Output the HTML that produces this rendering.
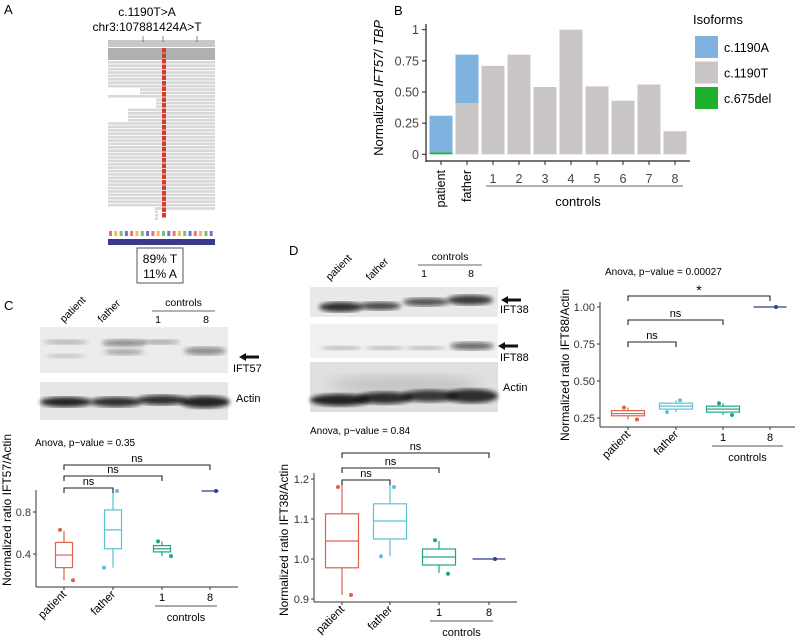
<!DOCTYPE html>
<html><head><meta charset="utf-8">
<style>
body{margin:0;background:#fff;}
svg{display:block;font-family:"Liberation Sans",Arial,sans-serif;}
</style></head>
<body>
<svg id="fig" width="800" height="637" viewBox="0 0 800 637" xmlns="http://www.w3.org/2000/svg">
<defs>
<filter id="blur2"><feGaussianBlur stdDeviation="2.2"/></filter>
<filter id="blur6"><feGaussianBlur stdDeviation="6"/></filter>
</defs>
<g>
<text x="4" y="14" font-size="13">A</text>
<text x="147" y="16" font-size="12" text-anchor="middle">c.1190T&gt;A</text>
<text x="147" y="31" font-size="12" text-anchor="middle">chr3:107881424A&gt;T</text>
<g id="igv"></g>
<rect x="137" y="248" width="46" height="35" fill="#fff" stroke="#555" stroke-width="1"/>
<text x="160" y="263" font-size="12" text-anchor="middle">89% T</text>
<text x="160" y="278" font-size="12" text-anchor="middle">11% A</text>
</g>
<g id="panelB">
<text x="394" y="15" font-size="13">B</text>
</g>
<g id="panelC">
<text x="4" y="310" font-size="13">C</text>
</g>
<g id="panelD">
<text x="289" y="255" font-size="13">D</text>
</g>
<g id="panelE"></g>
</svg>
<script>
// ---- Panel B data ----
const bCategories = ["patient","father","1","2","3","4","5","6","7","8"];
const bDel = [0.015,0,0,0,0,0,0,0,0,0];
const bA = [0.295,0.39,0,0,0,0,0,0,0,0];
const bT = [0,0.41,0.71,0.80,0.54,1.0,0.545,0.43,0.56,0.185];
const bTicks = [0,0.25,0.5,0.75,1];
const bTickLabels = ["0","0.25","0.50","0.75","1"];
// ---- Panel C (IFT57) ----
const cGroups = ["patient","father","1","8"];
const cQ1 = [0.27,0.45,0.42,1.0];
const cMed = [0.39,0.63,0.45,1.0];
const cQ3 = [0.51,0.82,0.48,1.0];
const cLo = [0.15,0.27,0.38,1.0];
const cHi = [0.62,1.0,0.52,1.0];
const cPts = [[0.63,0.15],[1.0,0.27],[0.52,0.38],[1.0]];
const cTicks = [0.4,0.8];
const cTickLabels = ["0.4","0.8"];
// ---- Panel D (IFT38) ----
const dQ1 = [0.978,1.05,0.985,1.0];
const dMed = [1.045,1.095,1.005,1.0];
const dQ3 = [1.113,1.138,1.025,1.0];
const dLo = [0.91,1.007,0.965,1.0];
const dHi = [1.19,1.19,1.045,1.0];
const dPts = [[1.18,0.91],[1.18,1.007],[1.047,0.963],[1.0]];
const dTicks = [0.9,1.0,1.1,1.2];
const dTickLabels = ["0.9","1.0","1.1","1.2"];
// ---- Panel D right (IFT88) ----
const eQ1 = [0.265,0.31,0.29,1.0];
const eMed = [0.28,0.33,0.31,1.0];
const eQ3 = [0.30,0.35,0.33,1.0];
const eLo = [0.24,0.29,0.27,1.0];
const eHi = [0.32,0.37,0.35,1.0];
const ePts = [[0.32,0.24],[0.37,0.29],[0.35,0.27],[1.0]];
const eTicks = [0.25,0.5,0.75,1.0];
const eTickLabels = ["0.25","0.50","0.75","1.00"];

const NS="http://www.w3.org/2000/svg";
const groupColors=["#e0604a","#5bc2d8","#22a585","#2f3f8f"];
function mk(parent,tag,attrs,text){const e=document.createElementNS(NS,tag);for(const k in attrs)e.setAttribute(k,attrs[k]);if(text!==undefined)e.textContent=text;parent.appendChild(e);return e;}

(function(){
 const g=document.getElementById('igv');
 mk(g,'rect',{x:108,y:40,width:107,height:7,fill:'#c8c8c8'});
 [143,163,197].forEach(x=>mk(g,'line',{x1:x,y1:36,x2:x,y2:42,stroke:'#555','stroke-width':0.7}));
 mk(g,'rect',{x:108,y:48,width:107,height:12,fill:'#b0b0b0'});
 for(let y=61;y<220;y+=3.4){
  let x0=108; if(y>62&&y<64)x0=123; if(y>86&&y<92)x0=140; if(y>96&&y<106)x0=156; if(y>108&&y<120)x0=128;
  let x1=215; if(y>208)x1=x0+50;
  if(y>205)x0=155;
  mk(g,'rect',{x:x0,y:y,width:x1-x0,height:2.6,fill:'#d8d8d8'});
 }
 for(let y=48;y<216;y+=5.5){
  const r=mk(g,'rect',{x:162,y:y,width:4,height:4.5,fill:'#d93a2a'});
  
  
 }
 const seqc=['#e33','#f90','#3a3','#33c'];
 for(let i=0;i<20;i++)mk(g,'rect',{x:109+i*5.3,y:231,width:3,height:5,fill:seqc[i%4],'fill-opacity':0.7});
 mk(g,'rect',{x:108,y:239,width:107,height:6,fill:'#3a3a8c'});
})();

(function(){
 const g=document.getElementById('panelB');
 const y=v=>154.3-v*124.6;
 const x0=441, step=26, bw=23;
 const xc=i=>x0+i*step;
 mk(g,'line',{x1:426,y1:24,x2:426,y2:162,stroke:'#222','stroke-width':1.2});
 mk(g,'line',{x1:426,y1:161,x2:690,y2:161,stroke:'#222','stroke-width':1.2});
 bTicks.forEach((t,i)=>{
  mk(g,'line',{x1:422,y1:y(t),x2:426,y2:y(t),stroke:'#222'});
  const tl=mk(g,'text',{x:419,y:y(t)+4.5,'font-size':12.5,'text-anchor':'end',fill:'#444'},bTickLabels[i]);
  
  
 });
 bCategories.forEach((c,i)=>{
  let base=0;
  [[bDel[i],'#1db12f'],[bT[i],'#c9c6c5'],[bA[i],'#7fb2de']].forEach(([v,col])=>{
   if(v>0){const r=mk(g,'rect',{x:xc(i)-bw/2,y:y(base+v),width:bw,height:y(base)-y(base+v),fill:col});
    
    }
   base+=v;
  });
  mk(g,'line',{x1:xc(i),y1:161,x2:xc(i),y2:165,stroke:'#222'});
  if(i<2){const t=mk(g,'text',{x:0,y:0,'font-size':12.5,'text-anchor':'end',transform:`translate(${xc(i)+4},170) rotate(-90)`},c);
   
   }
  else {const t=mk(g,'text',{x:xc(i),y:183,'font-size':12.5,'text-anchor':'middle',fill:'#444'},c);
   
   }
 });
 mk(g,'line',{x1:486,y1:186,x2:683,y2:186,stroke:'#666'});
 const ct=mk(g,'text',{x:578,y:206,'font-size':13,'text-anchor':'middle'},'controls');
 
 
 const yt=mk(g,'text',{x:0,y:0,'font-size':13,'text-anchor':'middle',transform:'translate(383,88) rotate(-90)'});
 
 
 mk(yt,'tspan',{},'Normalized ');mk(yt,'tspan',{'font-style':'italic'},'IFT57');mk(yt,'tspan',{},'/ ');mk(yt,'tspan',{'font-style':'italic'},'TBP');
 const lg=mk(g,'g',{});
 
 
 mk(lg,'text',{x:693,y:24,'font-size':13},'Isoforms');
 [['c.1190A','#7fb2de'],['c.1190T','#c9c6c5'],['c.675del','#1db12f']].forEach(([l,col],i)=>{
  mk(lg,'rect',{x:695,y:36+i*25.5,width:23,height:22,fill:col});
  const t=mk(lg,'text',{x:724,y:52+i*25.5,'font-size':12.5},l);
  
  
 });
})();

function blot(g,x,y,w,h,bands,bg){
 mk(g,'rect',{x:x,y:y,width:w,height:h,fill:bg||'#eeeeee'});
 bands.forEach(b=>mk(g,'ellipse',{cx:b[0],cy:b[1],rx:b[2],ry:b[3],fill:'#111','fill-opacity':b[4],filter:b[5]||'url(#blur2)'}));
}
function arrow(g,x,y){mk(g,'path',{d:`M${x+20},${y-1.5} L${x+7},${y-1.5} L${x+7},${y-4} L${x},${y} L${x+7},${y+4} L${x+7},${y+1.5} L${x+20},${y+1.5}Z`,fill:'#111'});}
function laneLabels(g,xs,y,ctrlY,ctrlX1,ctrlX2){
 ['patient','father'].forEach((l,i)=>{const t=mk(g,'text',{x:0,y:0,'font-size':10.5,transform:`translate(${xs[i]},${y}) rotate(-45)`},l);
  
  });
 mk(g,'text',{x:(ctrlX1+ctrlX2)/2,y:ctrlY-5,'font-size':10.5,'text-anchor':'middle'},'controls');
 mk(g,'line',{x1:ctrlX1,y1:ctrlY,x2:ctrlX2,y2:ctrlY,stroke:'#333','stroke-width':0.8});
 mk(g,'text',{x:xs[2],y:ctrlY+12,'font-size':10.5,'text-anchor':'middle'},'1');
 mk(g,'text',{x:xs[3],y:ctrlY+12,'font-size':10.5,'text-anchor':'middle'},'8');
}
(function(){
 const g=document.getElementById('panelC');
 const b=mk(g,'g',{});
 
 
 laneLabels(b,[64,102,158,206],323,311,152,215);
 blot(b,40,327,188,46,[[66,342,22,2.5,0.25],[124,343,22,3.5,0.45],[160,342,20,2.5,0.3],[205,351,21,4,0.45],[66,356,20,2,0.2],[124,352,20,3,0.3]],'#ececec');
 blot(b,40,382,188,38,[[66,402,26,5,0.9],[116,402,26,5,0.85],[162,400,25,5,0.85],[205,402,25,6,0.9]],'#e6e6e6');
 arrow(b,239,357);
 mk(b,'text',{x:233,y:372,'font-size':11},'IFT57');
 mk(b,'text',{x:236,y:402,'font-size':11},'Actin');
})();
(function(){
 const g=document.getElementById('panelD');
 const b=mk(g,'g',{});
 
 
 laneLabels(b,[330,370,424,471],281,265,418,482);
 blot(b,310,287,188,30,[[341,307,22,5,0.85],[380,306,21,4,0.75],[426,302,23,4,0.7],[470,300,23,5,0.8]],'#e9e9e9');
 blot(b,310,324,188,34,[[341,348,21,2,0.25],[385,348,20,2,0.25],[426,348,20,2,0.25],[472,346,22,4,0.6]],'#f1f1f1');
 blot(b,310,362,188,50,[[340,400,30,6,0.9],[385,398,28,6,0.85],[430,396,28,6,0.8],[472,396,26,7,0.85],[404,385,75,10,0.12,'url(#blur6)']],'#e0e0e0');
 arrow(b,501,300);
 arrow(b,498,346);
 mk(b,'text',{x:500,y:313,'font-size':11},'IFT38');
 mk(b,'text',{x:500,y:361,'font-size':11},'IFT88');
 mk(b,'text',{x:503,y:391,'font-size':11},'Actin');
})();

function boxplot(g,opt){
 const {y,xs,q1,med,q3,lo,hi,pts,ticks,tickLabels,axisX,axisTop,axisY,axisRight,bw,title,anova,anovaX,anovaY,brackets,titleX,ctrl}=opt;
 mk(g,'line',{x1:axisX,y1:axisTop,x2:axisX,y2:axisY,stroke:'#333','stroke-width':1});
 mk(g,'line',{x1:axisX,y1:axisY,x2:axisRight,y2:axisY,stroke:'#333','stroke-width':1});
 ticks.forEach((t,i)=>{mk(g,'line',{x1:axisX-3,y1:y(t),x2:axisX,y2:y(t),stroke:'#333'});
  const tl=mk(g,'text',{x:axisX-5,y:y(t)+4,'font-size':11,'text-anchor':'end',fill:'#333'},tickLabels[i]);
  
  });
 xs.forEach((x,i)=>{
  const c=groupColors[i];
  mk(g,'line',{x1:x,y1:axisY,x2:x,y2:axisY+3,stroke:'#333'});
  const bx=mk(g,'g',{});
  
  
  if(i<3){
   mk(bx,'line',{x1:x,y1:y(lo[i]),x2:x,y2:y(q1[i]),stroke:c,'stroke-width':1.2});
   mk(bx,'line',{x1:x,y1:y(q3[i]),x2:x,y2:y(hi[i]),stroke:c,'stroke-width':1.2});
   mk(bx,'rect',{x:x-bw/2,y:y(q3[i]),width:bw,height:y(q1[i])-y(q3[i]),fill:'none',stroke:c,'stroke-width':1.2});
   mk(bx,'line',{x1:x-bw/2,y1:y(med[i]),x2:x+bw/2,y2:y(med[i]),stroke:c,'stroke-width':1.2});
  } else {
   mk(bx,'line',{x1:x-bw/2,y1:y(med[i]),x2:x+bw/2,y2:y(med[i]),stroke:c,'stroke-width':1.2});
  }
  pts[i].forEach((p,j)=>{const off=pts[i].length===1?6:(j===0?-4:9)*(i===1?-1:1);
   const d=mk(bx,'circle',{cx:x+off,cy:y(p),r:2,fill:c});
   
   });
  if(i<2){const t=mk(g,'text',{x:0,y:0,'font-size':11.5,'text-anchor':'end',transform:`translate(${x+3},${axisY+8}) rotate(-45)`},cGroups[i]);
   
   }
  else mk(g,'text',{x:x,y:axisY+14,'font-size':11,'text-anchor':'middle'},cGroups[i]);
 });
 mk(g,'line',{x1:ctrl[0],y1:axisY+19,x2:ctrl[1],y2:axisY+19,stroke:'#555'});
 const ct=mk(g,'text',{x:(ctrl[0]+ctrl[1])/2,y:axisY+34,'font-size':11,'text-anchor':'middle'},'controls');
 
 
 const a=mk(g,'text',{x:anovaX,y:anovaY,'font-size':10},anova);
 
 
 brackets.forEach(([by,to,lab])=>{
  const bk=mk(g,'path',{d:`M${xs[0]},${by+5} L${xs[0]},${by} L${xs[to]},${by} L${xs[to]},${by+5}`,fill:'none',stroke:'#222','stroke-width':1.1});
  
  
  mk(g,'text',{x:(xs[0]+xs[to])/2,y:by-3+(lab==='*'?2:0),'font-size':lab==='*'?14:11,'text-anchor':'middle'},lab);
 });
 const yt=mk(g,'text',{x:0,y:0,'font-size':12,'text-anchor':'middle',transform:`translate(${titleX[0]},${titleX[1]}) rotate(-90)`},title);
 
 
}
boxplot(document.getElementById('panelC'),{
 y:v=>554-(v-0.4)*105,xs:[64,113,162,210],q1:cQ1,med:cMed,q3:cQ3,lo:cLo,hi:cHi,pts:cPts,
 ticks:cTicks,tickLabels:cTickLabels,axisX:36,axisTop:490,axisY:587,axisRight:238,bw:17,
 title:'Normalized ratio IFT57/Actin',titleX:[11,510],anova:'Anova, p\u2212value = 0.35',anovaX:35,anovaY:446,
 brackets:[[488,1,'ns'],[476,2,'ns'],[465,3,'ns']],ctrl:[155,217]});
boxplot(document.getElementById('panelD'),{
 y:v=>559-(v-1)*400,xs:[342,390,439,489],q1:dQ1,med:dMed,q3:dQ3,lo:dLo,hi:dHi,pts:dPts,
 ticks:dTicks,tickLabels:dTickLabels,axisX:314,axisTop:473,axisY:602,axisRight:517,bw:33,
 title:'Normalized ratio IFT38/Actin',titleX:[288,540],anova:'Anova, p\u2212value = 0.84',anovaX:310,anovaY:434,
 brackets:[[480,1,'ns'],[468,2,'ns'],[453,3,'ns']],ctrl:[430,493]});
boxplot(document.getElementById('panelE'),{
 y:v=>307-(v-1)*148,xs:[628,676,723,770],q1:eQ1,med:eMed,q3:eQ3,lo:eLo,hi:eHi,pts:ePts,
 ticks:eTicks,tickLabels:eTickLabels,axisX:600,axisTop:302,axisY:427,axisRight:795,bw:33,
 title:'Normalized ratio IFT88/Actin',titleX:[569,365],anova:'Anova, p\u2212value = 0.00027',anovaX:605,anovaY:275,
 brackets:[[342,1,'ns'],[320,2,'ns'],[296,3,'*']],ctrl:[712,783]});
</script>
</body></html>
